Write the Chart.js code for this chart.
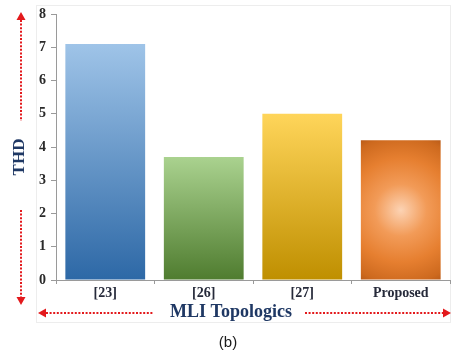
<!DOCTYPE html>
<html>
<head>
<meta charset="utf-8">
<script src="https://cdn.jsdelivr.net/npm/chart.js@4.4.1/dist/chart.umd.min.js"></script>
<style>
  html, body { margin: 0; padding: 0; background: #ffffff; }
  #wrap { width: 454px; height: 356px; }
</style>
</head>
<body>
<div id="wrap"><canvas id="c" width="454" height="356"></canvas></div>
<script>
// THD of each multilevel inverter topology
const categories = ['[23]', '[26]', '[27]', 'Proposed'];
const thdValues = [7.1, 3.7, 5.0, 4.2];
const yTicks = [0, 1, 2, 3, 4, 5, 6, 7, 8];

const xTitle = 'MLI Topologics';
const yTitle = 'THD';
const caption = '(b)';

// top / bottom colours of the vertical bar gradients
const gradientStops = [
  ['#9fc4e8', '#2d68a6'],
  ['#aad28f', '#4f7c2f'],
  ['#ffd55a', '#bf8f00'],
  null // radial fill for the last bar
];

function barFill(ctx) {
  const chart = ctx.chart;
  const sx = chart.scales.x, sy = chart.scales.y;
  if (!chart.chartArea || !sx || !sy) return '#888';
  const i = ctx.dataIndex;
  const v = thdValues[i];
  const top = sy.getPixelForValue(v);
  const bottom = sy.getPixelForValue(0);
  const c = chart.ctx;
  const stops = gradientStops[i];
  if (stops) {
    const g = c.createLinearGradient(0, top, 0, bottom);
    g.addColorStop(0, stops[0]);
    g.addColorStop(1, stops[1]);
    return g;
  }
  const cx = sx.getPixelForValue(i);
  const cy = (top + bottom) / 2;
  const r = (bottom - top) * 0.62;
  const g = c.createRadialGradient(cx, cy, 0, cx, cy, r);
  g.addColorStop(0, '#fcd3b4');
  g.addColorStop(0.3, '#f29b58');
  g.addColorStop(0.6, '#e67f30');
  g.addColorStop(0.85, '#cd691e');
  g.addColorStop(1, '#aa5013');
  return g;
}

// frame, axis titles, red dotted arrows and caption
const decorations = {
  id: 'decorations',
  beforeDraw(chart) {
    const c = chart.ctx;
    c.save();
    c.strokeStyle = '#ededed';
    c.lineWidth = 1;
    c.strokeRect(36.5, 5.5, 414, 317);
    c.restore();
  },
  afterDraw(chart) {
    const c = chart.ctx;
    const a = chart.chartArea;
    c.save();
    // axis titles
    c.fillStyle = '#1f3864';
    c.font = 'bold 18px "Liberation Serif"';
    c.textAlign = 'center';
    c.textBaseline = 'middle';
    c.fillText(xTitle, 231, a.bottom + 32);
    c.save();
    c.translate(20, 157);
    c.rotate(-Math.PI / 2);
    c.font = 'bold 17px "Liberation Serif"';
    c.fillText(yTitle, 0, 0);
    c.restore();

    // dotted red arrows
    const red = '#e3191c';
    c.strokeStyle = red;
    c.fillStyle = red;
    c.lineWidth = 2;
    c.setLineDash([2, 1.6]);
    const line = (x1, y1, x2, y2) => {
      c.beginPath(); c.moveTo(x1, y1); c.lineTo(x2, y2); c.stroke();
    };
    const head = (x, y, dir) => {
      c.beginPath();
      if (dir === 'up') { c.moveTo(x, y); c.lineTo(x - 4.5, y + 8); c.lineTo(x + 4.5, y + 8); }
      if (dir === 'down') { c.moveTo(x, y); c.lineTo(x - 4.5, y - 8); c.lineTo(x + 4.5, y - 8); }
      if (dir === 'left') { c.moveTo(x, y); c.lineTo(x + 8, y - 4.5); c.lineTo(x + 8, y + 4.5); }
      if (dir === 'right') { c.moveTo(x, y); c.lineTo(x - 8, y - 4.5); c.lineTo(x - 8, y + 4.5); }
      c.closePath(); c.fill();
    };
    const ax = 21;
    line(ax, 20, ax, 121);
    line(ax, 210, ax, 298);
    const hy = a.bottom + 33;
    line(46, hy, 154, hy);
    line(305, hy, 443, hy);
    c.setLineDash([]);
    head(ax, 12, 'up');
    head(ax, 305, 'down');
    head(38, hy, 'left');
    head(451, hy, 'right');

    // caption
    c.fillStyle = '#1a1a1a';
    c.font = '15px "Liberation Sans"';
    c.fillText(caption, 228, 343);
    c.restore();
  }
};

new Chart(document.getElementById('c'), {
  type: 'bar',
  data: {
    labels: categories,
    datasets: [{
      data: thdValues,
      backgroundColor: barFill,
      borderWidth: 0,
      barPercentage: 0.81,
      categoryPercentage: 1
    }]
  },
  options: {
    responsive: false,
    animation: false,
    layout: { padding: { left: 0, right: 4, top: 14, bottom: 0 } },
    plugins: { legend: { display: false }, tooltip: { enabled: false } },
    scales: {
      x: {
        afterFit(scale) { scale.height = 76; },
        grid: { display: true, offset: true, drawOnChartArea: false, tickLength: 4, color: '#9a9a9a' },
        border: { color: '#9a9a9a' },
        ticks: {
          color: '#262a3a',
          padding: 1,
          font: { family: '"Liberation Serif"', weight: 'bold', size: 14 }
        }
      },
      y: {
        min: 0,
        max: 8,
        afterFit(scale) { scale.width = 56; },
        afterBuildTicks(scale) { scale.ticks = yTicks.map(v => ({ value: v })); },
        grid: { display: true, drawOnChartArea: false, tickLength: 5, color: '#9a9a9a' },
        border: { color: '#9a9a9a' },
        ticks: {
          color: '#2a2a2a',
          padding: 5,
          font: { family: '"Liberation Serif"', weight: 'bold', size: 14 }
        }
      }
    }
  },
  plugins: [decorations]
});
</script>
</body>
</html>
